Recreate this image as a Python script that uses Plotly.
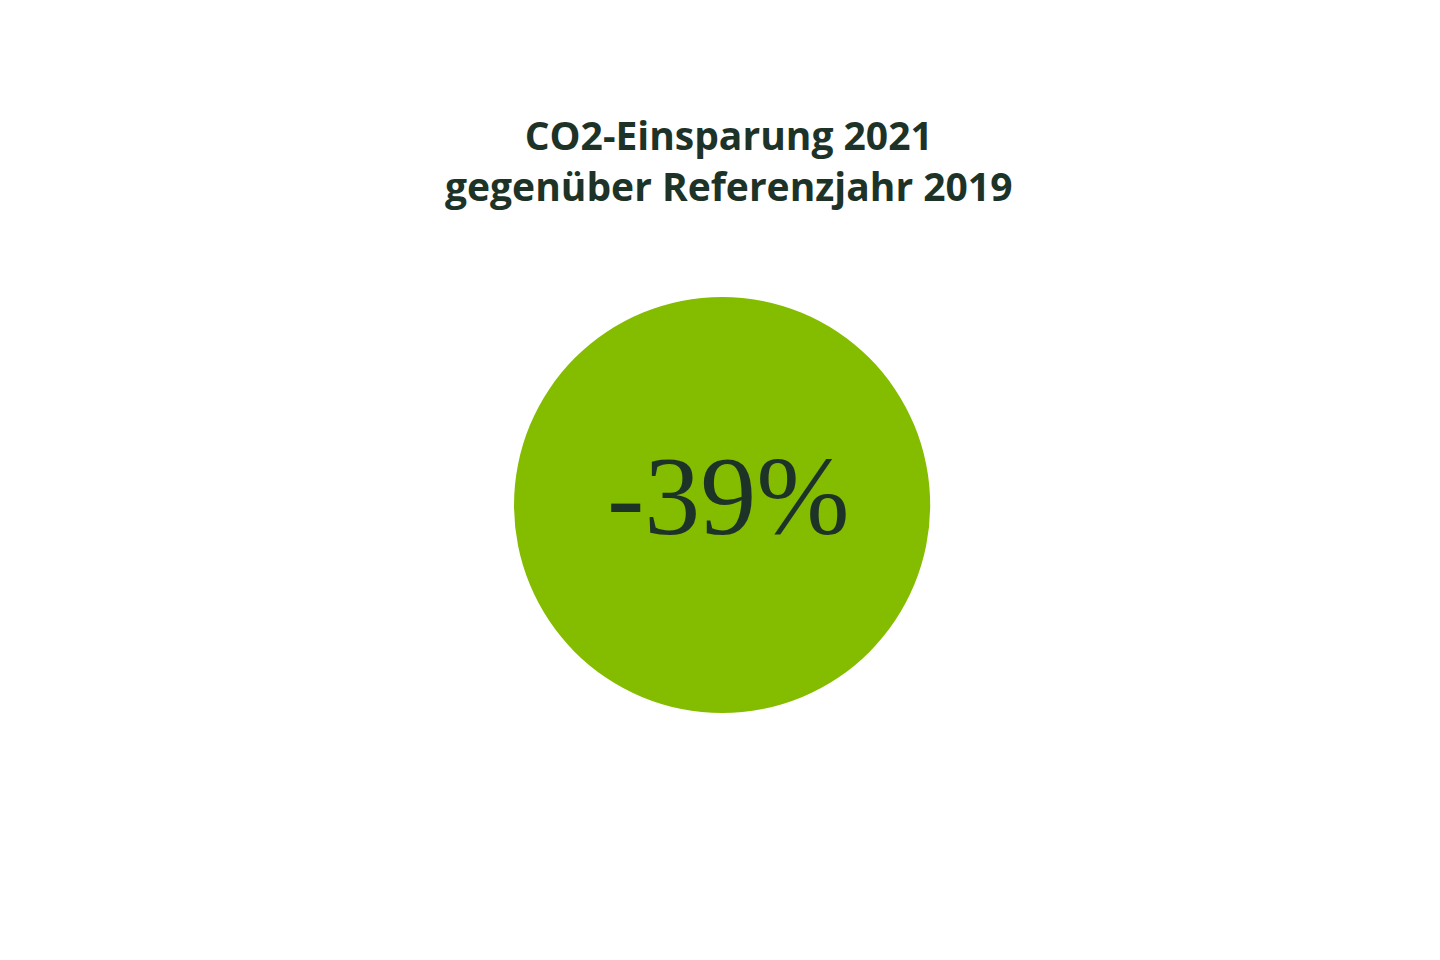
import plotly.graph_objects as go

title_lines = ["CO2-Einsparung 2021", "gegenüber Referenzjahr 2019"]
labels = ["Einsparung"]
values = [100]
center_text = "-39%"

fig = go.Figure()
fig.add_trace(go.Pie(
    labels=labels, values=values, marker=dict(colors=["#84bd00"]),
    textinfo="none", hoverinfo="none", sort=False, showlegend=False,
    domain=dict(x=[0.3514, 0.6404], y=[0.2653, 0.6993]),
))

fig.add_annotation(text="<b>" + "<br>".join(title_lines) + "</b>", x=0.5, y=1 - 98 / 960,
                   xref="paper", yref="paper", showarrow=False,
                   font=dict(family="Open Sans", size=39, color="#1e3328"))
fig.add_annotation(text=center_text, x=0.5, y=1 - 488 / 960,
                   xref="paper", yref="paper", showarrow=False,
                   font=dict(family="Liberation Serif", size=112, color="#1e3328"))

fig.update_layout(width=1440, height=960, margin=dict(l=0, r=0, t=0, b=0),
                  paper_bgcolor="white", plot_bgcolor="white")
fig.write_html("out.html")
